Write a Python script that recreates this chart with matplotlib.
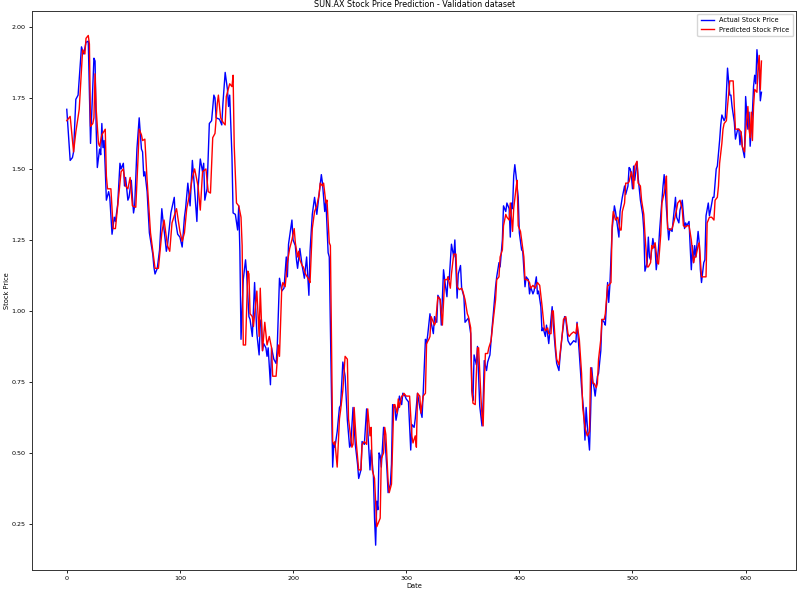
import matplotlib
matplotlib.use("Agg")
import matplotlib.pyplot as plt
from matplotlib import font_manager

title = "SUN.AX Stock Price Prediction - Validation dataset"
x_label = "Date"
y_label = "Stock Price"
series_names = ["Actual Stock Price", "Predicted Stock Price"]
series_colors = ["blue", "red"]
y_ticks = [0.25, 0.50, 0.75, 1.00, 1.25, 1.50, 1.75, 2.00]
x_ticks = [0, 100, 200, 300, 400, 500, 600]

# (day index, price)
actual = [
    (0, 1.71), (3, 1.53), (5, 1.54), (6, 1.56), (8, 1.745), (10, 1.76), (13, 1.93), (15, 1.905),
    (17, 1.946), (19, 1.95), (21, 1.59), (24, 1.89), (25, 1.88), (26, 1.64), (27, 1.505), (29, 1.57),
    (30, 1.55), (31, 1.66), (32, 1.575), (33, 1.60), (34, 1.50), (35, 1.39), (37, 1.42), (38, 1.40),
    (40, 1.27), (42, 1.33), (43, 1.315), (45, 1.375), (47, 1.52), (48, 1.50), (50, 1.52), (51, 1.44),
    (52, 1.47), (54, 1.39), (55, 1.40), (57, 1.46), (59, 1.345), (60, 1.37), (62, 1.57), (64, 1.68),
    (66, 1.57), (67, 1.56), (68, 1.475), (69, 1.49), (71, 1.42), (73, 1.275), (76, 1.20), (77, 1.155),
    (78, 1.13), (80, 1.15), (82, 1.215), (84, 1.36), (85, 1.32), (87, 1.25), (88, 1.21), (89, 1.23),
    (92, 1.345), (95, 1.40), (96, 1.32), (98, 1.27), (100, 1.26), (102, 1.225), (104, 1.33), (105, 1.36),
    (107, 1.45), (109, 1.37), (111, 1.53), (112, 1.48), (115, 1.315), (116, 1.43), (118, 1.535), (120, 1.49),
    (121, 1.52), (122, 1.39), (124, 1.43), (126, 1.66), (128, 1.67), (130, 1.76), (131, 1.75), (132, 1.68),
    (135, 1.675), (137, 1.655), (138, 1.73), (140, 1.84), (142, 1.78), (143, 1.72), (144, 1.76), (146, 1.545),
    (147, 1.345), (149, 1.34), (151, 1.285), (152, 1.37), (153, 1.21), (154, 0.90), (156, 1.11), (158, 1.18),
    (159, 1.13), (161, 0.98), (162, 0.97), (164, 0.91), (166, 1.10), (168, 0.92), (170, 0.845), (171, 0.955),
    (172, 0.97), (173, 0.86), (174, 0.885), (176, 0.87), (177, 0.84), (178, 0.87), (180, 0.74), (181, 0.87),
    (183, 0.83), (185, 0.815), (186, 0.87), (188, 1.115), (190, 1.07), (192, 1.08), (194, 1.19), (195, 1.12),
    (196, 1.235), (199, 1.32), (200, 1.25), (202, 1.23), (203, 1.18), (204, 1.15), (206, 1.22), (208, 1.16),
    (210, 1.115), (212, 1.19), (214, 1.055), (215, 1.21), (217, 1.34), (219, 1.40), (220, 1.37), (221, 1.34),
    (223, 1.41), (225, 1.48), (226, 1.45), (228, 1.35), (229, 1.39), (231, 1.205), (232, 1.19), (234, 0.685),
    (235, 0.45), (236, 0.53), (237, 0.52), (239, 0.575), (241, 0.66), (242, 0.667), (244, 0.82), (246, 0.77),
    (248, 0.615), (250, 0.52), (251, 0.53), (253, 0.66), (255, 0.53), (257, 0.46), (258, 0.41), (260, 0.44),
    (261, 0.54), (263, 0.53), (265, 0.655), (266, 0.58), (268, 0.44), (269, 0.51), (271, 0.42), (272, 0.27),
    (273, 0.175), (274, 0.33), (275, 0.30), (276, 0.50), (277, 0.49), (278, 0.45), (280, 0.59), (281, 0.56),
    (283, 0.44), (284, 0.36), (286, 0.39), (287, 0.46), (288, 0.67), (290, 0.66), (291, 0.615), (293, 0.66),
    (294, 0.70), (296, 0.67), (297, 0.71), (299, 0.70), (300, 0.69), (302, 0.68), (304, 0.51), (305, 0.60),
    (307, 0.59), (308, 0.62), (310, 0.71), (312, 0.66), (314, 0.625), (315, 0.71), (317, 0.90), (318, 0.885),
    (319, 0.915), (321, 0.99), (322, 0.96), (324, 0.92), (325, 0.98), (327, 0.96), (328, 1.055), (330, 1.04),
    (331, 0.95), (333, 1.145), (334, 1.11), (336, 1.05), (337, 1.12), (338, 1.11), (340, 1.235), (342, 1.19),
    (343, 1.25), (345, 1.045), (346, 1.13), (348, 1.16), (349, 1.08), (351, 1.05), (352, 0.96), (354, 0.97),
    (355, 0.975), (357, 0.92), (358, 0.72), (359, 0.685), (360, 0.845), (362, 0.81), (363, 0.875), (365, 0.665),
    (366, 0.63), (367, 0.595), (368, 0.68), (369, 0.825), (371, 0.79), (372, 0.82), (374, 0.845), (376, 0.945),
    (377, 0.99), (379, 1.085), (380, 1.12), (382, 1.17), (383, 1.155), (385, 1.25), (386, 1.37), (388, 1.35),
    (389, 1.38), (391, 1.36), (392, 1.26), (393, 1.38), (394, 1.36), (395, 1.475), (396, 1.515), (397, 1.48),
    (399, 1.40), (400, 1.275), (402, 1.215), (403, 1.21), (405, 1.085), (406, 1.12), (408, 1.11), (409, 1.06),
    (410, 1.085), (412, 1.06), (413, 1.07), (415, 1.12), (416, 1.06), (417, 1.07), (419, 1.015), (420, 0.93),
    (421, 0.94), (423, 0.91), (424, 0.95), (426, 0.885), (427, 0.93), (429, 1.015), (430, 0.95), (432, 0.855),
    (433, 0.815), (435, 0.79), (436, 0.84), (438, 0.92), (440, 0.98), (441, 0.975), (443, 0.895), (445, 0.88),
    (448, 0.895), (450, 0.89), (451, 0.96), (453, 0.85), (455, 0.73), (457, 0.64), (458, 0.545), (459, 0.66),
    (460, 0.60), (462, 0.51), (463, 0.64), (464, 0.80), (465, 0.75), (466, 0.73), (467, 0.70), (469, 0.77),
    (470, 0.78), (472, 0.86), (473, 0.97), (475, 0.96), (476, 0.95), (478, 1.10), (479, 1.03), (480, 1.09),
    (482, 1.285), (484, 1.37), (485, 1.35), (486, 1.32), (488, 1.26), (489, 1.35), (491, 1.40), (493, 1.44),
    (494, 1.41), (496, 1.44), (497, 1.505), (498, 1.50), (499, 1.48), (500, 1.43), (501, 1.51), (502, 1.46),
    (504, 1.525), (505, 1.47), (507, 1.39), (509, 1.34), (510, 1.285), (511, 1.14), (513, 1.17), (514, 1.26),
    (515, 1.19), (516, 1.18), (518, 1.255), (519, 1.23), (520, 1.22), (521, 1.145), (523, 1.22), (524, 1.285),
    (526, 1.39), (527, 1.44), (528, 1.48), (529, 1.425), (530, 1.36), (532, 1.25), (533, 1.29), (535, 1.28),
    (536, 1.32), (538, 1.40), (539, 1.33), (541, 1.31), (542, 1.355), (543, 1.37), (544, 1.39), (546, 1.29),
    (547, 1.31), (548, 1.30), (550, 1.315), (551, 1.225), (552, 1.145), (553, 1.23), (554, 1.17), (555, 1.23),
    (556, 1.19), (558, 1.28), (559, 1.24), (560, 1.145), (561, 1.10), (563, 1.17), (564, 1.18), (565, 1.335),
    (567, 1.38), (568, 1.335), (569, 1.355), (571, 1.40), (572, 1.40), (574, 1.50), (575, 1.51), (577, 1.60),
    (578, 1.655), (579, 1.69), (581, 1.67), (582, 1.68), (583, 1.77), (584, 1.855), (586, 1.76), (587, 1.76),
    (588, 1.72), (590, 1.665), (591, 1.605), (593, 1.64), (594, 1.64), (595, 1.585), (596, 1.63), (597, 1.58),
    (599, 1.54), (600, 1.755), (602, 1.64), (603, 1.70), (604, 1.58), (606, 1.70), (607, 1.79), (608, 1.83),
    (609, 1.80), (610, 1.92), (611, 1.87), (612, 1.84), (613, 1.74), (614, 1.77),
]

predicted = [
    (0, 1.67), (3, 1.685), (6, 1.56), (8, 1.63), (11, 1.71), (14, 1.92), (16, 1.905), (17, 1.96),
    (19, 1.97), (20, 1.94), (21, 1.65), (23, 1.66), (24, 1.68), (25, 1.835), (26, 1.71), (28, 1.59),
    (29, 1.58), (31, 1.62), (34, 1.64), (35, 1.475), (36, 1.43), (39, 1.43), (41, 1.29), (43, 1.29),
    (45, 1.37), (48, 1.49), (50, 1.50), (52, 1.44), (54, 1.43), (56, 1.47), (58, 1.37), (61, 1.365),
    (63, 1.54), (64, 1.64), (66, 1.62), (67, 1.60), (69, 1.605), (71, 1.46), (74, 1.275), (77, 1.18),
    (78, 1.15), (81, 1.15), (84, 1.275), (86, 1.32), (89, 1.23), (91, 1.21), (93, 1.31), (97, 1.36),
    (100, 1.28), (102, 1.245), (104, 1.275), (106, 1.36), (109, 1.42), (111, 1.47), (113, 1.50), (116, 1.44),
    (118, 1.355), (120, 1.49), (123, 1.50), (125, 1.42), (127, 1.415), (129, 1.61), (131, 1.625), (133, 1.73),
    (134, 1.76), (136, 1.68), (138, 1.665), (140, 1.655), (141, 1.755), (144, 1.80), (146, 1.79), (147, 1.83),
    (148, 1.58), (150, 1.38), (152, 1.37), (154, 1.33), (155, 1.23), (156, 0.88), (158, 0.88), (160, 1.14),
    (161, 1.13), (162, 0.99), (164, 0.98), (165, 0.945), (168, 1.07), (170, 0.91), (171, 1.08), (173, 0.86),
    (175, 0.96), (177, 0.88), (179, 0.91), (181, 0.87), (182, 0.77), (185, 0.77), (187, 0.88), (188, 0.84),
    (190, 1.08), (191, 1.10), (193, 1.085), (195, 1.17), (197, 1.22), (199, 1.25), (201, 1.29), (202, 1.24),
    (204, 1.19), (205, 1.21), (206, 1.18), (208, 1.16), (209, 1.155), (211, 1.13), (214, 1.11), (215, 1.10),
    (217, 1.29), (219, 1.35), (221, 1.37), (223, 1.41), (224, 1.45), (226, 1.44), (227, 1.45), (229, 1.38),
    (230, 1.39), (232, 1.24), (233, 1.23), (235, 0.54), (236, 0.53), (237, 0.54), (239, 0.45), (241, 0.62),
    (242, 0.65), (244, 0.72), (246, 0.84), (248, 0.83), (249, 0.62), (252, 0.52), (253, 0.53), (254, 0.66),
    (256, 0.53), (258, 0.44), (260, 0.44), (261, 0.53), (263, 0.54), (265, 0.53), (266, 0.655), (268, 0.56),
    (269, 0.59), (270, 0.44), (272, 0.41), (274, 0.24), (275, 0.25), (277, 0.27), (278, 0.48), (280, 0.50),
    (281, 0.59), (282, 0.565), (284, 0.40), (285, 0.36), (287, 0.39), (289, 0.67), (290, 0.67), (292, 0.64),
    (293, 0.69), (294, 0.66), (296, 0.70), (297, 0.70), (298, 0.71), (300, 0.70), (303, 0.70), (305, 0.56),
    (306, 0.535), (308, 0.56), (309, 0.52), (310, 0.71), (312, 0.70), (313, 0.64), (315, 0.70), (317, 0.71),
    (318, 0.885), (320, 0.90), (321, 0.91), (322, 0.98), (325, 0.95), (326, 0.96), (328, 1.05), (330, 1.04),
    (332, 0.95), (334, 1.11), (336, 1.11), (337, 1.12), (339, 1.08), (340, 1.13), (342, 1.20), (344, 1.20),
    (345, 1.085), (347, 1.075), (349, 1.08), (350, 1.07), (352, 1.04), (354, 0.99), (355, 0.98), (357, 0.94),
    (358, 0.73), (359, 0.675), (361, 0.67), (362, 0.78), (363, 0.87), (364, 0.87), (366, 0.70), (367, 0.63),
    (368, 0.595), (369, 0.74), (370, 0.85), (372, 0.85), (373, 0.87), (375, 0.895), (377, 0.97), (379, 1.04),
    (380, 1.11), (382, 1.12), (383, 1.19), (385, 1.215), (386, 1.30), (388, 1.34), (389, 1.33), (391, 1.32),
    (392, 1.38), (394, 1.28), (395, 1.36), (397, 1.43), (398, 1.46), (399, 1.30), (401, 1.28), (402, 1.25),
    (404, 1.19), (405, 1.11), (407, 1.11), (409, 1.10), (410, 1.08), (412, 1.09), (414, 1.08), (416, 1.10),
    (418, 1.09), (420, 1.02), (422, 0.94), (423, 0.93), (425, 0.94), (426, 0.92), (428, 0.92), (429, 1.00),
    (430, 1.00), (432, 0.875), (433, 0.83), (435, 0.81), (436, 0.85), (438, 0.92), (439, 0.97), (441, 0.98),
    (443, 0.92), (444, 0.91), (446, 0.92), (448, 0.926), (450, 0.92), (451, 0.955), (453, 0.90), (455, 0.78),
    (456, 0.66), (458, 0.59), (459, 0.575), (460, 0.56), (462, 0.575), (463, 0.80), (465, 0.745), (466, 0.745),
    (468, 0.73), (469, 0.745), (470, 0.83), (472, 0.90), (473, 0.97), (475, 0.97), (476, 0.99), (478, 1.09),
    (479, 1.09), (481, 1.10), (482, 1.30), (483, 1.35), (485, 1.32), (487, 1.33), (489, 1.285), (490, 1.285),
    (491, 1.35), (493, 1.38), (494, 1.45), (496, 1.45), (497, 1.455), (499, 1.49), (500, 1.47), (501, 1.43),
    (502, 1.51), (504, 1.527), (505, 1.45), (507, 1.44), (508, 1.39), (510, 1.34), (511, 1.27), (513, 1.155),
    (514, 1.155), (516, 1.17), (517, 1.23), (518, 1.22), (520, 1.24), (522, 1.17), (523, 1.165), (525, 1.27),
    (526, 1.38), (528, 1.415), (529, 1.44), (530, 1.475), (531, 1.29), (533, 1.285), (535, 1.29), (537, 1.32),
    (539, 1.357), (540, 1.38), (542, 1.39), (544, 1.357), (545, 1.30), (547, 1.295), (548, 1.30), (550, 1.30),
    (552, 1.25), (554, 1.17), (555, 1.19), (556, 1.19), (558, 1.23), (559, 1.24), (561, 1.12), (563, 1.12),
    (565, 1.12), (566, 1.31), (568, 1.33), (570, 1.33), (572, 1.32), (573, 1.39), (575, 1.40), (576, 1.44),
    (577, 1.52), (579, 1.59), (580, 1.64), (581, 1.66), (583, 1.67), (584, 1.72), (586, 1.81), (588, 1.81),
    (589, 1.81), (590, 1.72), (591, 1.64), (593, 1.64), (594, 1.64), (596, 1.63), (597, 1.58), (599, 1.56),
    (600, 1.63), (602, 1.72), (603, 1.64), (604, 1.61), (605, 1.70), (606, 1.60), (607, 1.72), (608, 1.78),
    (610, 1.77), (611, 1.86), (612, 1.90), (613, 1.78), (614, 1.88),
]

available = {f.name for f in font_manager.fontManager.ttflist}
narrow = "Liberation Sans Narrow" in available
fam = ["Liberation Sans Narrow", "DejaVu Sans"] if narrow else ["DejaVu Sans"]
base = 5.4 if narrow else 4.8
plt.rcParams["font.family"] = fam
plt.rcParams["font.size"] = base

act_x, act_y = zip(*actual)
pred_x, pred_y = zip(*predicted)

fig = plt.figure(figsize=(7.97, 5.91), dpi=100)
ax = fig.add_axes([0.0402, 0.0355, 0.9588, 0.9465])
ax.plot(act_x, act_y, color=series_colors[0], lw=1.0, label=series_names[0])
ax.plot(pred_x, pred_y, color=series_colors[1], lw=1.0, label=series_names[1])
ax.set_xticks(x_ticks)
ax.set_yticks(y_ticks)
ax.set_xlim(-30.7, 644.7)
ax.set_ylim(0.0875, 2.0575)
ax.tick_params(labelsize=base * 0.95, length=2.5, width=0.6, pad=2)
for s in ax.spines.values():
    s.set_linewidth(0.7)
    s.set_color("#333333")
ax.set_title(title, fontsize=base * 1.2, pad=2.5)
ax.set_xlabel(x_label, labelpad=1.5)
ax.set_ylabel(y_label, labelpad=1.5)
ax.legend(loc="upper right", fontsize=base, handlelength=2.0, borderpad=0.5, framealpha=0.8)
fig.savefig("out.png", dpi=100)
